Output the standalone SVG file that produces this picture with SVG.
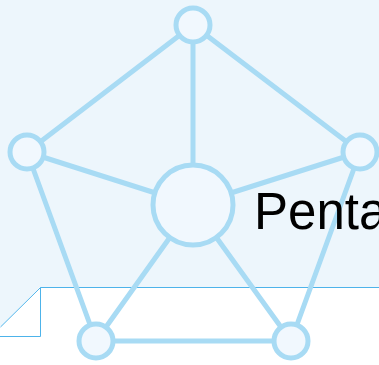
<svg xmlns="http://www.w3.org/2000/svg" width="379" height="365" viewBox="0 0 379 365">
<style>
.edge{stroke:#a8dbf4;stroke-width:5;fill:none;stroke-linecap:round}
.node{stroke:#a8dbf4;stroke-width:5;fill:#f1f8fe}
.fold{stroke:#4db3ea;stroke-width:1;fill:none}
.label{font-family:"Liberation Sans",Arial,sans-serif;font-size:51px;fill:#000}
</style>
<rect x="0" y="0" width="379" height="365" fill="#edf6fc"/>
<polygon points="40,287 379,287 379,365 0,365 0,327" fill="#ffffff"/>
<g id="fold">
<path class="fold" d="M0.5,327 L40.5,287.5 L379,287.5 M40.5,287.5 L40.5,336.5 L0,336.5"/>
</g>
<g id="connectors">
<line class="edge" x1="193" y1="25" x2="27" y2="152"/>
<line class="edge" x1="193" y1="25" x2="360" y2="152"/>
<line class="edge" x1="27" y1="152" x2="96" y2="341"/>
<line class="edge" x1="360" y1="152" x2="291" y2="341"/>
<line class="edge" x1="96" y1="341" x2="291" y2="341"/>
<line class="edge" x1="193" y1="205" x2="193" y2="25"/>
<line class="edge" x1="193" y1="205" x2="27" y2="152"/>
<line class="edge" x1="193" y1="205" x2="360" y2="152"/>
<line class="edge" x1="193" y1="205" x2="96" y2="341"/>
<line class="edge" x1="193" y1="205" x2="291" y2="341"/>
</g>
<g id="node-top"><circle class="node" cx="193" cy="25" r="17"/></g>
<g id="node-left"><circle class="node" cx="27" cy="152" r="17"/></g>
<g id="node-right"><circle class="node" cx="360" cy="152" r="17"/></g>
<g id="node-bottom-left"><circle class="node" cx="96" cy="341" r="17"/></g>
<g id="node-bottom-right"><circle class="node" cx="291" cy="341" r="17"/></g>
<g id="node-center"><circle class="node" cx="193" cy="205" r="40"/></g>
<g id="title"><text class="label" x="254" y="229">Penta</text></g>
</svg>
